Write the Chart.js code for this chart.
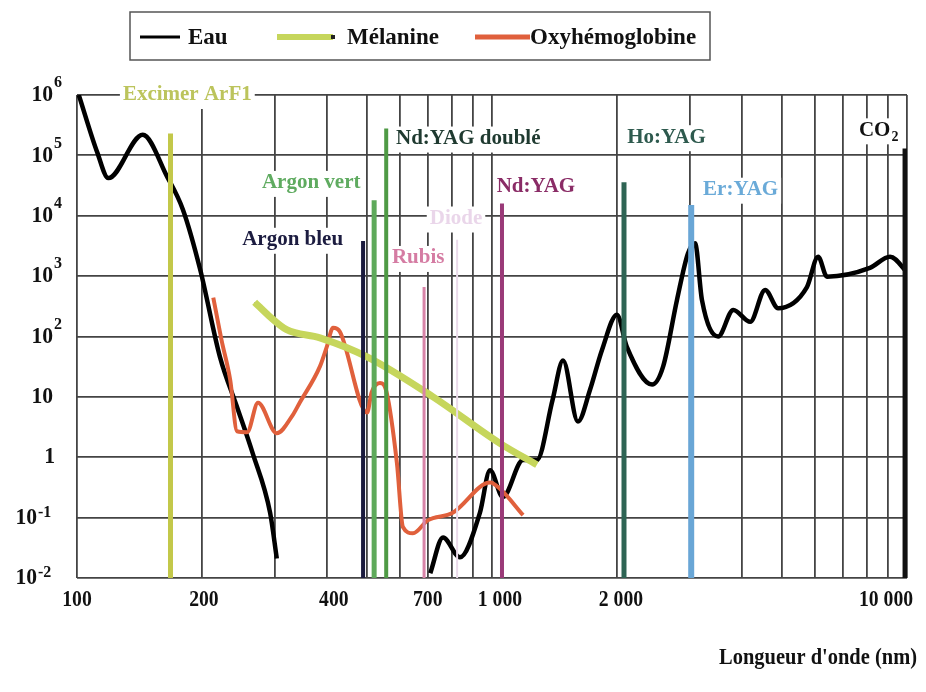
<!DOCTYPE html>
<html>
<head>
<meta charset="utf-8">
<script src="https://cdn.jsdelivr.net/npm/chart.js@4.4.1/dist/chart.umd.min.js"></script>
<style>
  html, body { margin: 0; padding: 0; background: #fff; }
</style>
</head>
<body>
<canvas id="spectre" width="926" height="692"></canvas>
<script>
// absorption curves (wavelength nm -> coefficient)
const eauWavelength = [101, 112, 119, 144, 165, 180, 198, 221, 243, 265, 292, 303, 500,
    710, 762, 837, 935, 989, 1062, 1188, 1283, 1400, 1483, 1611, 1722, 1841, 2000, 2112,
    2431, 2585, 2790, 2967, 3085, 3206, 3506, 3815, 4189, 4552, 4890, 5740, 6107, 6415,
    8140, 9100, 10000];
const eauValues = [1e6, 1.1e5, 4.2e4, 2.2e5, 4.4e4, 1.26e4, 1.3e3, 46, 6.8, 1.17, 0.12, 0.021, null,
    0.012, 0.047, 0.022, 0.12, 0.61, 0.22, 0.9, 0.9, 9, 40, 3.9, 13, 60, 230, 68,
    16, 32, 400, 2400, 3500, 400, 100, 275, 175, 590, 295, 660, 2100, 980,
    1370, 2100, 1170];

const melanineWavelength = [268, 290, 320, 385, 500, 721, 1045, 1283];
const melanineValues = [370, 220, 130, 95, 46, 10, 1.7, 0.75];

const oxyWavelength = [213, 223, 234, 243, 257, 273, 303, 331, 344, 385, 400, 414, 430, 500,
    513, 537, 557, 590, 610, 645, 700, 804, 990, 1045, 1188];
const oxyValues = [440, 87, 19, 2.7, 2.6, 8, 2.5, 5, 8, 32, 68, 140, 120, 5.5,
    12, 17, 12, 0.8, 0.07, 0.055, 0.09, 0.12, 0.38, 0.3, 0.11];

// lasers
const laserNames = ["Excimer ArF1", "Argon bleu", "Argon vert", "Nd:YAG doublé", "Rubis",
    "Diode", "Nd:YAG", "Ho:YAG", "Er:YAG", "CO2"];
const laserWavelength = [168, 489, 520, 556, 686, 824, 1057, 2080, 3020, 9920];
const laserPeak = [2.3e5, 3.8e3, 1.8e4, 2.8e5, 660, 4e3, 1.6e4, 3.6e4, 1.5e4, 1.3e5];
const laserColors = ["#c3c84a", "#1b1b3e", "#5ea95a", "#4f9a45", "#d884a8",
    "#eadaea", "#9a3a78", "#2e6454", "#69a6d6", "#111111"];
const laserWidths = [5, 4, 5, 4, 3, 2, 4, 5, 6, 6];
const laserTextColors = ["#bcc45c", "#1c1c40", "#5fab60", "#1f3a30", "#d57ca3",
    "#ead6ea", "#8a2c66", "#2e5a4e", "#6aaad8", "#111111"];
// label anchor (left edge, middle) in data units
const labelWavelength = [129, 250, 279, 587, 574, 708, 1026, 2118, 3226, 7660];
const labelValue = [1e6, 4e3, 3.5e4, 1.9e5, 2e3, 9e3, 3.1e4, 2e5, 2.7e4, 2.6e5];

// axes
const xTickValues = [100, 200, 400, 700, 1000, 2000, 10000];
const xTickLabels = ["100", "200", "400", "700", "1 000", "2 000", "10 000"];
const xTickShift = [0, 2, 7, 0, 8, 4, -21];
const yExponents = [-2, -1, 0, 1, 2, 3, 4, 5, 6];

const legendNames = ["Eau", "Mélanine", "Oxyhémoglobine"];

const pts = (xs, ys) => xs.map((x, i) => ({ x: x, y: ys[i] }));

const datasets = [];
laserNames.forEach((name, i) => {
    datasets.push({
        label: name,
        data: [{ x: laserWavelength[i], y: 0.01 }, { x: laserWavelength[i], y: laserPeak[i] }],
        borderColor: laserColors[i],
        borderWidth: laserWidths[i],
        borderCapStyle: "butt",
        pointRadius: 0,
    });
});
datasets.push({
    label: "Mélanine",
    data: pts(melanineWavelength, melanineValues),
    borderColor: "#c6d65c",
    borderWidth: 7,
    pointRadius: 0,
    cubicInterpolationMode: "monotone",
});
datasets.push({
    label: "Mélanine (trait)",
    data: pts(melanineWavelength, melanineValues),
    borderColor: "rgba(60,60,30,0.7)",
    borderWidth: 1.5,
    borderDash: [2, 7],
    pointRadius: 0,
    cubicInterpolationMode: "monotone",
});
datasets.push({
    label: "Oxyhémoglobine",
    data: pts(oxyWavelength, oxyValues),
    borderColor: "#e0603c",
    borderWidth: 4,
    pointRadius: 0,
    cubicInterpolationMode: "monotone",
});
datasets.push({
    label: "Eau",
    data: pts(eauWavelength, eauValues),
    borderColor: "#000",
    borderWidth: 4.5,
    pointRadius: 0,
    spanGaps: false,
    cubicInterpolationMode: "monotone",
});

const FONT = '"Liberation Serif", "Times New Roman", serif';

function txt(ctx, s, x, y, size, color, align, sx) {
    ctx.save();
    ctx.font = "bold " + size + "px " + FONT;
    ctx.fillStyle = color;
    ctx.textBaseline = "middle";
    ctx.textAlign = align || "left";
    ctx.translate(x, y);
    ctx.scale(sx || 1, 1);
    ctx.fillText(s, 0, 0);
    ctx.restore();
}

function width(ctx, s, size, sx) {
    ctx.save();
    ctx.font = "bold " + size + "px " + FONT;
    const w = ctx.measureText(s).width * (sx || 1);
    ctx.restore();
    return w;
}

const textPlugin = {
    id: "textes",
    beforeDatasetsDraw(chart) {
        const ctx = chart.ctx;
        const xs = chart.scales.x, ys = chart.scales.y;
        laserNames.forEach((name, i) => {
            const x = xs.getPixelForValue(labelWavelength[i]);
            const y = ys.getPixelForValue(labelValue[i]);
            const isCO2 = name === "CO2";
            const main = isCO2 ? "CO" : name;
            const w = width(ctx, main, 21) + (isCO2 ? 10 : 0);
            ctx.fillStyle = "#fff";
            ctx.fillRect(x - 3, y - 12, w + 6, 26);
            txt(ctx, main, x, y, 21, laserTextColors[i]);
            if (isCO2) txt(ctx, "2", x + w - 9, y + 7, 14, laserTextColors[i]);
        });
    },
    afterDraw(chart) {
        const ctx = chart.ctx;
        const xs = chart.scales.x, ys = chart.scales.y;
        // y tick labels
        yExponents.forEach((e) => {
            const y = ys.getPixelForValue(Math.pow(10, e));
            if (e === 0) {
                txt(ctx, "1", 55, y, 24, "#111", "right", 0.9);
            } else if (e === 1) {
                txt(ctx, "10", 53, y, 24, "#111", "right", 0.9);
            } else if (e > 1) {
                txt(ctx, "10", 53, y, 24, "#111", "right", 0.9);
                txt(ctx, String(e), 54, y - 12, 16, "#111", "left");
            } else {
                txt(ctx, "10", 37, y, 24, "#111", "right", 0.9);
                txt(ctx, "-" + Math.abs(e), 38, y - 5, 16, "#111", "left");
            }
        });
        // x tick labels
        xTickValues.forEach((v, i) => {
            const x = xs.getPixelForValue(v) + xTickShift[i];
            txt(ctx, xTickLabels[i], x, 600, 24, "#111", "center", 0.82);
        });
        // axis title
        txt(ctx, "Longueur d'onde (nm)", 917, 658, 23, "#111", "right", 0.89);
        // legend
        ctx.save();
        ctx.strokeStyle = "#555";
        ctx.lineWidth = 1.5;
        ctx.strokeRect(130, 12, 580, 48);
        ctx.restore();
        const items = [
            { x1: 140, x2: 180, tx: 188, color: "#000", w: 3 },
            { x1: 277, x2: 333, tx: 347, color: "#c6d65c", w: 6 },
            { x1: 475, x2: 530, tx: 530, color: "#e0603c", w: 5 },
        ];
        items.forEach((it, i) => {
            ctx.save();
            ctx.strokeStyle = it.color;
            ctx.lineWidth = it.w;
            ctx.beginPath();
            ctx.moveTo(it.x1, 37);
            ctx.lineTo(it.x2, 37);
            ctx.stroke();
            if (i === 1) {
                ctx.fillStyle = "#222";
                ctx.fillRect(it.x2 - 2, 35, 4, 4);
            }
            ctx.restore();
            txt(ctx, legendNames[i], it.tx, 38, 23, "#111", "left");
        });
    },
};

new Chart(document.getElementById("spectre"), {
    type: "line",
    data: { datasets: datasets },
    options: {
        responsive: false,
        animation: false,
        layout: { padding: { left: 77, right: 19, top: 95, bottom: 114 } },
        plugins: { legend: { display: false }, tooltip: { enabled: false } },
        scales: {
            x: {
                type: "logarithmic",
                min: 100,
                max: 10000,
                afterBuildTicks: (scale) => {
                    const t = [];
                    [100, 1000].forEach((d) => {
                        for (let k = 1; k <= 9; k++) t.push({ value: k * d });
                    });
                    t.push({ value: 10000 });
                    scale.ticks = t;
                },
                afterFit: (scale) => { scale.height = 0; },
                ticks: { display: false },
                grid: { color: "#444", lineWidth: 1.8, drawTicks: false },
                border: { display: false },
            },
            y: {
                type: "logarithmic",
                min: 0.01,
                max: 1e6,
                afterBuildTicks: (scale) => {
                    scale.ticks = yExponents.map((e) => ({ value: Math.pow(10, e) }));
                },
                afterFit: (scale) => { scale.width = 0; },
                ticks: { display: false },
                grid: { color: "#444", lineWidth: 1.8, drawTicks: false },
                border: { display: false },
            },
        },
    },
    plugins: [textPlugin],
});
</script>
</body>
</html>
